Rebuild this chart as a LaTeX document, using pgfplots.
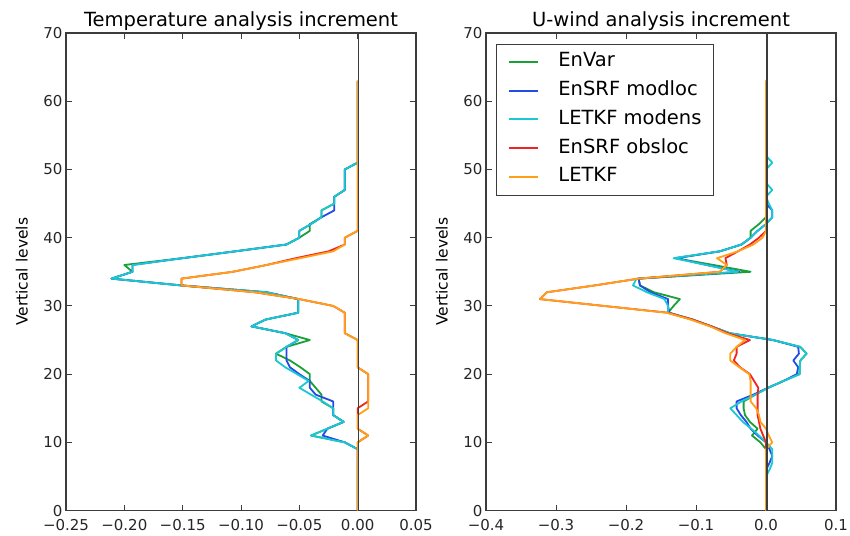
\documentclass[border=0pt]{standalone}
\usepackage{pgfplots}
\pgfplotsset{compat=1.18}
\usepackage{fontspec}
\setmainfont{DejaVu Sans}
\definecolor{envarcol}{RGB}{25,160,55}
\definecolor{modloccol}{RGB}{35,75,230}
\definecolor{modenscol}{RGB}{25,200,210}
\definecolor{obsloccol}{RGB}{240,35,35}
\definecolor{letkfcol}{RGB}{255,160,25}
\definecolor{framecol}{RGB}{60,60,60}
\pgfplotsset{
  panel/.style={
    scale only axis, width=350bp, height=477.6bp, anchor=south west,
    ymin=0, ymax=70, ytick={0,10,20,30,40,50,60,70},
    yticklabels={0,10,20,30,40,50,60,70},
    tick align=inside, major tick length=6bp,
    xtick pos=both, ytick pos=both,
    tick style={draw=framecol, line width=0.9bp},
    axis line style={draw=framecol, line width=1.2bp},
    tick label style={font=\fontsize{15bp}{18bp}\selectfont, text=black!85},
    xticklabel style={yshift=-5.5bp},
    every axis title/.style={at={(0.5,1)}, anchor=base, yshift=6.5bp,
      font=\fontsize{19.5bp}{22bp}\selectfont},
    ylabel={Vertical levels},
    every axis y label/.style={at={(axis description cs:-0.126,0.5)}, anchor=center, rotate=90,
      font=\fontsize{15.5bp}{18bp}\selectfont},
    clip=false,
  },
  dline/.style={draw=#1, line width=1.8bp, line join=round},
}
\begin{document}
\begin{tikzpicture}
\path[use as bounding box] (0bp,0bp) rectangle (850bp,536bp);
% ---------------- left panel ----------------
\begin{axis}[panel, at={(66bp,25.4bp)},
  xmin=-0.25, xmax=0.05,
  xtick={-0.25,-0.2,-0.15,-0.1,-0.05,0,0.05},
  xticklabels={−0.25,−0.20,−0.15,−0.10,−0.05,0.00,0.05},
  title={Temperature analysis increment}]
% EnVar
\addplot[dline=envarcol] table {
0 0
0 9
-0.011 10
-0.040 11
-0.026 12
-0.012 13
-0.021 14
-0.021 15
-0.031 16
-0.031 17
-0.036 18
-0.041 19
-0.041 20
-0.049 21
-0.058 22
-0.070 23
-0.061 24
-0.041 25
-0.062 26
-0.091 27
-0.079 28
-0.051 29
-0.051 30
-0.051 31
-0.078 32
-0.151 33
-0.211 34
-0.193 35
-0.200 36
-0.150 37
-0.105 38
-0.061 39
-0.050 40
-0.041 41
-0.041 42
-0.031 43
-0.031 44
-0.020 45
-0.020 46
-0.011 47
-0.011 48
-0.011 49
-0.011 50
0 51
0 63
};
% EnSRF modloc
\addplot[dline=modloccol] table {
0 0
0 9
-0.011 10
-0.030 11
-0.026 12
-0.012 13
-0.021 14
-0.021 15
-0.021 16
-0.036 17
-0.041 18
-0.041 19
-0.050 20
-0.058 21
-0.061 22
-0.061 23
-0.061 24
-0.051 25
-0.062 26
-0.091 27
-0.079 28
-0.051 29
-0.051 30
-0.051 31
-0.078 32
-0.151 33
-0.211 34
-0.193 35
-0.193 36
-0.150 37
-0.105 38
-0.061 39
-0.050 40
-0.050 41
-0.040 42
-0.031 43
-0.020 44
-0.020 45
-0.020 46
-0.011 47
-0.011 48
-0.011 49
-0.011 50
0 51
0 63
};
% LETKF modens
\addplot[dline=modenscol] table {
0 0
0 9
-0.011 10
-0.040 11
-0.026 12
-0.012 13
-0.021 14
-0.021 15
-0.030 16
-0.040 17
-0.050 18
-0.042 19
-0.052 20
-0.062 21
-0.070 22
-0.070 23
-0.061 24
-0.051 25
-0.062 26
-0.091 27
-0.079 28
-0.051 29
-0.051 30
-0.051 31
-0.078 32
-0.151 33
-0.211 34
-0.193 35
-0.193 36
-0.150 37
-0.105 38
-0.061 39
-0.050 40
-0.050 41
-0.040 42
-0.031 43
-0.031 44
-0.020 45
-0.020 46
-0.011 47
-0.011 48
-0.011 49
-0.011 50
0 51
0 63
};
% EnSRF obsloc
\addplot[dline=obsloccol] table {
0 0
0 10
0.009 11
0 12
0 15
0.009 16
0.009 20
0 21
0 25
-0.011 26
-0.011 29
-0.021 30
-0.050 31
-0.088 32
-0.151 33
-0.151 34
-0.107 35
-0.078 36
-0.053 37
-0.025 38
-0.011 39
-0.011 40
0 41
0 63
};
% LETKF
\addplot[dline=letkfcol] table {
0 0
0 10
0.009 11
0 12
0 14
0.009 15
0.009 20
0 21
0 25
-0.011 26
-0.011 29
-0.021 30
-0.050 31
-0.088 32
-0.151 33
-0.151 34
-0.107 35
-0.078 36
-0.049 37
-0.021 38
-0.011 39
-0.011 40
0 41
0 63
};
\addplot[draw=framecol, line width=1.3bp, xshift=1bp] coordinates {(0,0) (0,70)};
\end{axis}
% ---------------- right panel ----------------
\begin{axis}[panel, at={(486bp,25.4bp)},
  xmin=-0.4, xmax=0.1,
  xtick={-0.4,-0.3,-0.2,-0.1,0,0.1},
  xticklabels={−0.4,−0.3,−0.2,−0.1,0.0,0.1},
  title={U-wind analysis increment},
  legend cell align=left,
  legend image code/.code={\draw[#1, line width=2.2bp] (0bp,0.5bp) -- (29bp,0.5bp);},
  legend style={at={(rel axis cs:0.0277,0.977)}, anchor=north west,
    draw=framecol, line width=1bp, fill=white,
    font=\fontsize{19.5bp}{20bp}\selectfont,
    inner xsep=12bp, inner ysep=8bp,
    row sep=8.7bp, column sep=19bp,
    nodes={inner xsep=0bp, inner ysep=0bp, text height=14.5bp, text depth=5.5bp}},
  ]
% EnVar
\addplot[dline=envarcol] table {
0 0
0 9
-0.008 10
-0.020 11
-0.012 12
-0.023 13
-0.030 14
-0.032 15
-0.032 16
-0.015 17
0.003 18
0.025 19
0.048 20
0.048 21
0.049 22
0.058 23
0.049 24
0.010 25
-0.052 26
-0.078 27
-0.105 28
-0.140 29
-0.132 30
-0.123 31
-0.160 32
-0.180 33
-0.182 34
-0.022 35
-0.075 36
-0.130 37
-0.066 38
-0.035 39
-0.022 40
-0.022 41
-0.010 42
0 43
0 63
};
\addlegendentry{EnVar}
% EnSRF modloc
\addplot[dline=modloccol] table {
0 0
0 6
0.005 7
0.009 8
0.005 9
0 10
-0.012 11
-0.022 12
-0.028 13
-0.036 14
-0.042 15
-0.042 16
-0.018 17
0.003 18
0.025 19
0.044 20
0.046 21
0.039 22
0.047 23
0.046 24
0.010 25
-0.052 26
-0.078 27
-0.105 28
-0.138 29
-0.140 30
-0.140 31
-0.165 32
-0.180 33
-0.182 34
-0.038 35
-0.085 36
-0.128 37
-0.066 38
-0.035 39
-0.022 40
-0.012 41
0 42
0.009 43
0.009 44
0 45
0 63
};
\addlegendentry{EnSRF modloc}
% LETKF modens
\addplot[dline=modenscol] table {
0 0
0 5
0.005 6
0.009 7
0.009 8
0.009 9
0 10
-0.010 11
-0.021 12
-0.033 13
-0.042 14
-0.051 15
-0.035 16
-0.015 17
0.003 18
0.025 19
0.048 20
0.048 21
0.049 22
0.058 23
0.049 24
0.010 25
-0.052 26
-0.078 27
-0.105 28
-0.140 29
-0.140 30
-0.145 31
-0.170 32
-0.190 33
-0.185 34
-0.040 35
-0.085 36
-0.132 37
-0.066 38
-0.035 39
-0.022 40
-0.012 41
0 42
0.009 43
0.009 44
0.004 45
0 46
0.009 47
0 48
0 50
0.009 51
0 52
0 63
};
\addlegendentry{LETKF modens}
% EnSRF obsloc
\addplot[dline=obsloccol] table {
0 0
0 10
-0.004 11
-0.008 12
-0.010 13
-0.012 14
-0.012 15
-0.012 16
-0.012 17
-0.011 18
-0.017 19
-0.023 20
-0.037 21
-0.046 22
-0.042 23
-0.042 24
-0.023 25
-0.055 26
-0.078 27
-0.105 28
-0.140 29
-0.232 30
-0.323 31
-0.313 32
-0.245 33
-0.182 34
-0.066 35
-0.056 36
-0.058 37
-0.040 38
-0.023 39
-0.010 40
0 41
0 63
};
\addlegendentry{EnSRF obsloc}
% LETKF
\addplot[dline=letkfcol] table {
0 0
0 9
0.009 10
0.004 11
0 12
-0.008 13
-0.010 14
-0.014 15
-0.022 16
-0.022 17
-0.022 18
-0.022 19
-0.024 20
-0.038 21
-0.051 22
-0.051 23
-0.042 24
-0.030 25
-0.058 26
-0.080 27
-0.108 28
-0.142 29
-0.232 30
-0.323 31
-0.313 32
-0.245 33
-0.182 34
-0.066 35
-0.056 36
-0.070 37
-0.040 38
-0.018 39
-0.005 40
0 41
0 63
};
\addlegendentry{LETKF}
\addplot[draw=framecol, line width=1.3bp, xshift=1bp, forget plot] coordinates {(0,0) (0,70)};
\end{axis}
\end{tikzpicture}
\end{document}
